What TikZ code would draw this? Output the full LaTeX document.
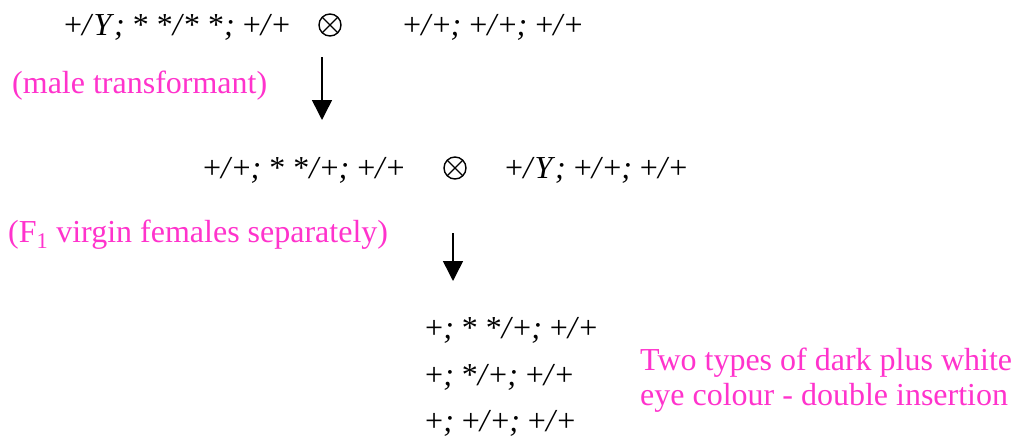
\documentclass[tikz,border=0pt]{standalone}
\usepackage{fontspec}
\setmainfont{Liberation Serif}
\usetikzlibrary{arrows.meta}
\definecolor{pinktext}{RGB}{255,51,204}
\newcommand{\isl}{\textit{/}}
\newcommand{\ism}{\textit{;}}
\begin{document}
\begin{tikzpicture}[x=1pt,y=-1pt,
  geno/.style={anchor=base west,inner sep=0pt,font=\fontsize{32}{38}\selectfont},
  note/.style={anchor=base west,inner sep=0pt,text=pinktext,font=\fontsize{32}{38}\selectfont},
  cross/.style={circle,draw,line width=1.4pt,minimum size=22pt,inner sep=0pt,
    path picture={\draw[line width=1.4pt] (path picture bounding box.north west) -- (path picture bounding box.south east)
      (path picture bounding box.north east) -- (path picture bounding box.south west);}},
  arr/.style={line width=1.5pt,-{Triangle[width=20pt,length=20pt]}}]
\useasboundingbox (0,0) rectangle (1015,439);
\node[geno] (p1) at (64,35) {+\isl\textit{Y}\ism{} * *\isl* *\ism{} +\isl+};
\node[cross] (x1) at (330,25) {};
\node[geno] (p2) at (403,35) {+\isl+\ism{} +\isl+\ism{} +\isl+};
\node[note] (n1) at (12,93) {(male transformant)};
\coordinate (a1s) at (322,57);
\coordinate (a1e) at (322,120);
\draw[arr] (a1s) -- (a1e);
\node[geno] (f1) at (203,178) {+\isl+\ism{} * *\isl+\ism{} +\isl+};
\node[cross] (x2) at (455,168) {};
\node[geno] (f2) at (505,178) {+\isl\textit{Y}\ism{} +\isl+\ism{} +\isl+};
\node[note] (n2) at (8,242) {(F\textsubscript{1} virgin females separately)};
\coordinate (a2s) at (453,233);
\coordinate (a2e) at (453,281);
\draw[arr] (a2s) -- (a2e);
\node[geno] (g1) at (425,338) {+\ism{} * *\isl+\ism{} +\isl+};
\node[geno] (g2) at (425,385) {+\ism{} *\isl+\ism{} +\isl+};
\node[geno] (g3) at (425,431) {+\ism{} +\isl+\ism{} +\isl+};
\node[note] (n3) at (640,370) {Two types of dark plus white};
\node[note] (n4) at (640,405) {eye colour - double insertion};
\end{tikzpicture}
\end{document}
